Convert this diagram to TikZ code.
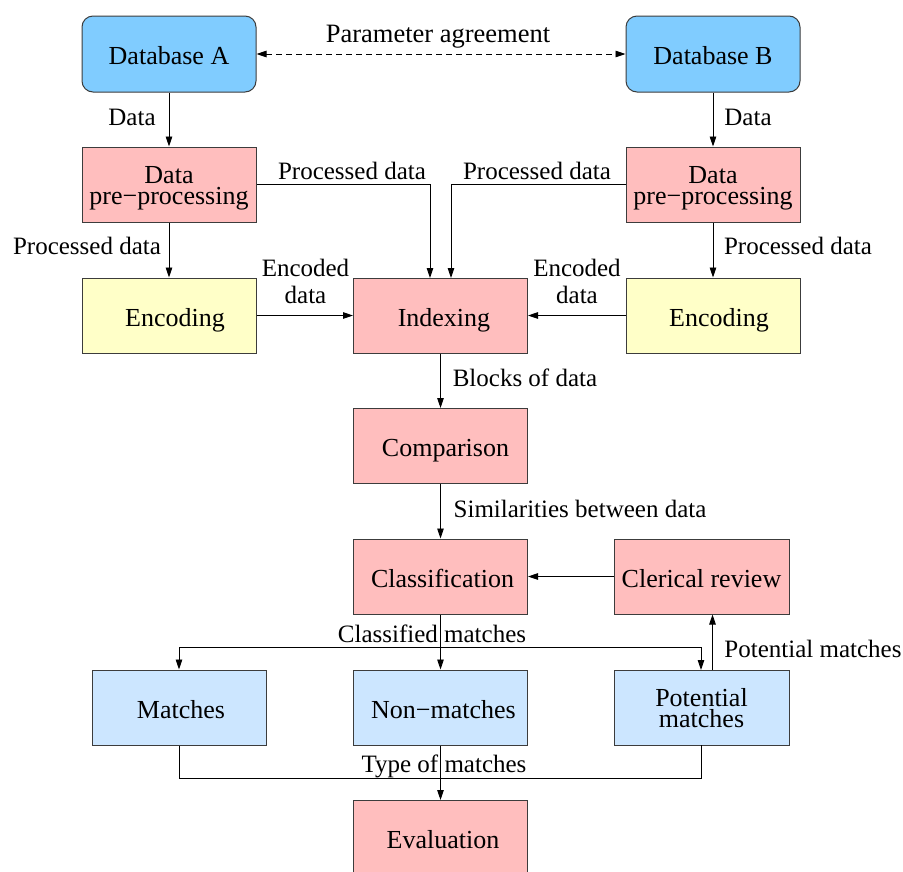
\documentclass[tikz,border=0pt]{standalone}
\usepackage{fontspec}
\setmainfont{Liberation Serif}
\usetikzlibrary{arrows.meta}

\definecolor{dbblue}{RGB}{128,204,255}
\definecolor{procpink}{RGB}{255,190,190}
\definecolor{encyellow}{RGB}{255,255,200}
\definecolor{resblue}{RGB}{204,230,255}
\definecolor{edge}{RGB}{60,60,60}

% leading space that nudges a box caption to the right
\newcommand{\lead}[1]{\hspace*{#1}}

\tikzset{
  box/.style={draw=edge, line width=1pt, minimum width=174pt, minimum height=75pt,
    inner sep=0pt, align=center, font=\fontsize{26}{21}\selectfont,
    text height=21pt, text depth=0pt},
  twoline/.style={text height=40pt, text depth=0pt},
  dbbox/.style={box, fill=dbblue, rounded corners=11pt, minimum height=76pt},
  procbox/.style={box, fill=procpink},
  encbox/.style={box, fill=encyellow},
  resbox/.style={box, fill=resblue},
  lbl/.style={inner sep=0pt, anchor=base, align=center, font=\fontsize{25}{26.5}\selectfont},
  flow/.style={draw=black, line width=0.9pt, -{Triangle[length=10pt,width=6.5pt]}},
  link/.style={draw=black, line width=0.9pt}
}

\begin{document}
\begin{tikzpicture}[x=1pt, y=-1pt]
\useasboundingbox (0,0) rectangle (903,871);

% sources
\node[dbbox] (dbA) at (169,54) {Database A};
\node[dbbox] (dbB) at (713,54) {Database B};

% cleaning
\node[procbox, twoline] (ppA) at (169,184.5) {Data\\pre−processing};
\node[procbox, twoline] (ppB) at (713,184.5) {Data\\pre−processing};

% encoding and indexing
\node[encbox] (encA) at (169,315.5) {\lead{12pt}Encoding};
\node[procbox] (idx) at (440.5,315.5) {\lead{7pt}Indexing};
\node[encbox] (encB) at (713,315.5) {\lead{12pt}Encoding};

% comparison and classification
\node[procbox] (cmp) at (440.5,446) {\lead{10pt}Comparison};
\node[procbox] (cls) at (440.5,576.5) {\lead{4pt}Classification};
\node[procbox, minimum width=175pt] (cler) at (701.5,576.5) {Clerical review};

% outcomes
\node[resbox] (mat) at (179,707.5) {\lead{4pt}Matches};
\node[resbox] (non) at (440.5,707.5) {\lead{6pt}Non−matches};
\node[resbox, twoline, minimum width=175pt] (pot) at (701.5,707.5) {Potential\\matches};

\node[procbox] (ev) at (440.5,838) {\lead{5pt}Evaluation};

% parameter agreement between the two databases
\draw[line width=0.9pt, dash pattern=on 6pt off 4pt,
  {Triangle[length=10pt,width=6.5pt]}-{Triangle[length=10pt,width=6.5pt]}]
  (dbA.east) -- (dbB.west);
\node[lbl, font=\fontsize{26.5}{28}\selectfont] (lpa) at (438,42) {Parameter agreement};

% data into pre-processing
\draw[flow] (dbA) -- (ppA);
\node[lbl] (ldA) at (132,125) {Data};
\draw[flow] (dbB) -- (ppB);
\node[lbl] (ldB) at (748,125) {Data};

% pre-processing into encoding
\draw[flow] (ppA) -- (encA);
\node[lbl] (lpA) at (87,254) {Processed data};
\draw[flow] (ppB) -- (encB);
\node[lbl] (lpB) at (798,254) {Processed data};

% pre-processing into indexing
\coordinate (inA) at (430,278);
\coordinate (inB) at (451,278);
\draw[flow] (ppA.east) -| (inA);
\node[lbl] (lqA) at (352,179) {Processed data};
\draw[flow] (ppB.west) -| (inB);
\node[lbl] (lqB) at (537,179) {Processed data};

% encoded data into indexing
\draw[flow] (encA) -- (idx);
\node[lbl] (leA) at (305.5,303) {Encoded\\data};
\draw[flow] (encB) -- (idx);
\node[lbl] (leB) at (577,303) {Encoded\\data};

% main pipeline
\draw[flow] (idx) -- (cmp);
\node[lbl] (lbk) at (525,386) {Blocks of data};
\draw[flow] (cmp) -- (cls);
\node[lbl] (lsim) at (580,517) {Similarities between data};
\draw[flow] (cler) -- (cls);

% classification results
\draw[flow] (cls) -- (non);
\coordinate (split) at (440.5,647);
\coordinate (potin) at (701,670);
\draw[flow] (split) -| (mat.north);
\draw[flow] (split) -| (potin);
\node[lbl] (lcm) at (432,642) {Classified matches};

% potential matches go to clerical review
\draw[flow] ([xshift=11pt]pot.north) -- ([xshift=11pt]cler.south);
\node[lbl] (lpm) at (813,657) {Potential matches};

% all outcomes to evaluation
\coordinate (merge) at (440.5,778);
\coordinate (potout) at (701,745);
\draw[link] (mat.south) |- (merge) -| (potout);
\draw[flow] (non) -- (ev);
\node[lbl] (ltm) at (444,772) {Type of matches};
\end{tikzpicture}
\end{document}
